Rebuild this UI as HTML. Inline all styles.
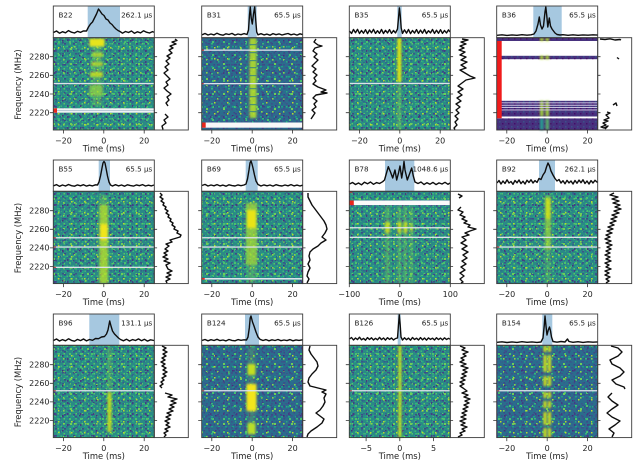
<!DOCTYPE html>
<html><head><meta charset="utf-8"><style>html,body{margin:0;padding:0;background:#fff;overflow:hidden}svg{display:block}</style></head>
<body>
<svg width="640" height="468" viewBox="0 0 640 468" xmlns="http://www.w3.org/2000/svg" xmlns:xlink="http://www.w3.org/1999/xlink" font-family="DejaVu Sans, Liberation Sans, sans-serif">
<defs>
<pattern id="pa" width="9" height="7" patternUnits="userSpaceOnUse"><rect x="1" y="1" width="2" height="1.6" fill="#3e4989"/><rect x="5.5" y="4" width="1.6" height="1.6" fill="#365d8d"/></pattern>
<pattern id="pb" width="11" height="13" patternUnits="userSpaceOnUse"><rect x="3" y="2" width="2" height="2" fill="#4ac16d"/><rect x="8" y="7" width="1.6" height="1.6" fill="#86d549"/><rect x="0" y="10" width="2" height="1.5" fill="#31688e"/></pattern>
<pattern id="pc" width="7" height="10" patternUnits="userSpaceOnUse"><rect x="4" y="0" width="1.5" height="1.5" fill="#2c728e"/><rect x="1" y="6" width="2" height="1.5" fill="#1fa187"/></pattern>
<pattern id="pd" width="13" height="11" patternUnits="userSpaceOnUse"><rect x="6" y="3" width="1.5" height="1.5" fill="#b5de2b"/><rect x="10" y="9" width="2" height="1.5" fill="#3b528b"/><rect x="2" y="6" width="1.5" height="2" fill="#443a83"/></pattern>
<pattern id="pe" width="17" height="15" patternUnits="userSpaceOnUse"><rect x="2" y="3" width="2" height="2" fill="#6ece58"/><rect x="11" y="10" width="1.5" height="1.5" fill="#472f7d"/><rect x="14" y="1" width="1.5" height="1.5" fill="#25ab82"/><rect x="7" y="13" width="2" height="1.5" fill="#35b779"/></pattern>
<pattern id="pf" width="5" height="6" patternUnits="userSpaceOnUse"><rect x="1" y="1" width="1.8" height="1.6" fill="#3b528b"/><rect x="3.5" y="4" width="1.5" height="1.5" fill="#414487"/></pattern>
<pattern id="pg" width="6" height="5" patternUnits="userSpaceOnUse"><rect x="0.5" y="0.5" width="1.5" height="1.5" fill="#3dbc74"/><rect x="3.5" y="3" width="1.5" height="1.5" fill="#58c765"/></pattern>
<pattern id="pp" width="6" height="5" patternUnits="userSpaceOnUse"><rect x="1" y="1" width="1.5" height="1.5" fill="#3b518b"/><rect x="4" y="3" width="1.5" height="1.5" fill="#440e68"/></pattern>
<filter id="bl" x="-10%" y="-10%" width="120%" height="120%"><feGaussianBlur stdDeviation="1.0"/></filter>
<filter id="gbl" filterUnits="userSpaceOnUse" x="0" y="0" width="640" height="468"><feGaussianBlur stdDeviation="0.35"/></filter>
<g id="gG">
<rect x="53.3" y="37.7" width="101" height="92.3"/>
<rect x="349.3" y="37.7" width="101" height="92.3"/>
<rect x="53.3" y="191.3" width="101" height="92.3"/>
<rect x="201.7" y="191.3" width="101" height="92.3"/>
<rect x="349.3" y="191.3" width="101" height="92.3"/>
<rect x="496.7" y="191.3" width="101" height="92.3"/>
<rect x="53.3" y="345.3" width="101" height="92.3"/>
<rect x="349.3" y="345.3" width="101" height="92.3"/>
</g>
<g id="gB">
<rect x="201.7" y="37.7" width="101" height="92.3"/>
<rect x="201.7" y="345.3" width="101" height="92.3"/>
<rect x="496.7" y="345.3" width="101" height="92.3"/>
</g>
<g id="gA"><use xlink:href="#gG"/><use xlink:href="#gB"/></g>
<g id="gP">
<rect x="496.7" y="37.7" width="101" height="3.3"/>
<rect x="496.7" y="55.8" width="101" height="3.4"/>
<rect x="496.7" y="100.8" width="101" height="15.7"/>
<rect x="496.7" y="118.3" width="101" height="11.7"/>
</g>
</defs>
<rect x="0" y="0" width="640" height="468" fill="#fff"/>
<g filter="url(#gbl)">
<!-- spectrogram backgrounds -->
<use xlink:href="#gG" fill="#2a8a86"/>
<use xlink:href="#gB" fill="#2b6d8d"/>
<use xlink:href="#gG" fill="url(#pg)"/>
<use xlink:href="#gB" fill="url(#pf)"/>
<use xlink:href="#gA" fill="url(#pa)"/>
<use xlink:href="#gA" fill="url(#pb)"/>
<use xlink:href="#gA" fill="url(#pc)"/>
<use xlink:href="#gA" fill="url(#pd)"/>
<use xlink:href="#gA" fill="url(#pe)"/>
<use xlink:href="#gP" fill="#46307e"/>
<use xlink:href="#gP" fill="url(#pp)"/>

<!-- signals -->
<g filter="url(#bl)">
<rect x="92" y="46" width="10" height="60" fill="#7ad151" opacity=".35"/>
<rect x="89.5" y="38.5" width="15" height="8" fill="#e6e41a"/>
<rect x="92" y="52.5" width="11" height="4.5" fill="#b8de29" opacity=".8"/>
<rect x="91" y="62" width="12" height="4" fill="#c8e020" opacity=".75"/>
<rect x="90" y="72" width="13" height="5" fill="#d0e11c" opacity=".8"/>
<rect x="89" y="85" width="14" height="11" fill="#a0da39" opacity=".6"/>
<rect x="249.5" y="38" width="7" height="80" fill="#b5de2b" opacity=".88"/>
<rect x="397.3" y="38" width="4" height="44" fill="#d7e219"/>
<rect x="397.3" y="84" width="4" height="46" fill="#7ad151" opacity=".5"/>
<rect x="540" y="37.7" width="3.5" height="3.3" fill="#b8de29"/><rect x="545.5" y="37.7" width="3.5" height="3.3" fill="#b8de29"/>
<rect x="540" y="55.8" width="3.5" height="3.4" fill="#b8de29"/><rect x="545.5" y="55.8" width="3.5" height="3.4" fill="#b8de29"/>
<rect x="540" y="100.8" width="3.5" height="15.7" fill="#a8db34" opacity=".9"/><rect x="545.5" y="100.8" width="3.5" height="15.7" fill="#a8db34" opacity=".9"/>
<rect x="540" y="118.3" width="3.5" height="11.7" fill="#2a9d8f"/><rect x="545.5" y="118.3" width="3.5" height="11.7" fill="#5ec962" opacity=".8"/>
<rect x="100" y="195" width="7" height="12" fill="#7ad151" opacity=".4"/>
<rect x="99.5" y="205" width="8.5" height="78.5" fill="#b5de2b" opacity=".8"/>
<rect x="100" y="224" width="8" height="16" fill="#f0e51c"/>
<rect x="246" y="203" width="11" height="62" fill="#a8db34" opacity=".75"/>
<rect x="247" y="210" width="9" height="18" fill="#e8e419"/>
<rect x="247" y="265" width="9" height="18" fill="#7ad151" opacity=".35"/>
<rect x="385.5" y="206" width="4" height="77" fill="#7ad151" opacity=".45"/>
<rect x="397.5" y="206" width="3.5" height="77" fill="#7ad151" opacity=".45"/>
<rect x="403.5" y="206" width="3.5" height="77" fill="#7ad151" opacity=".45"/>
<rect x="410" y="206" width="3" height="77" fill="#7ad151" opacity=".4"/>
<rect x="385" y="222" width="5" height="11" fill="#d0e11c" opacity=".85"/>
<rect x="397.5" y="222" width="4" height="11" fill="#d0e11c" opacity=".85"/>
<rect x="403.5" y="222" width="4" height="11" fill="#d0e11c" opacity=".85"/>
<rect x="410" y="224" width="3" height="8" fill="#d0e11c" opacity=".6"/>
<rect x="545" y="196" width="6" height="54" fill="#a0da39" opacity=".7"/>
<rect x="545.5" y="199" width="5" height="20" fill="#d5e21a" opacity=".8"/>
<rect x="545" y="250" width="6" height="33" fill="#7ad151" opacity=".3"/>
<rect x="107.5" y="347" width="4" height="42" fill="#7ad151" opacity=".4"/>
<rect x="107.5" y="392" width="4" height="40" fill="#c8e020" opacity=".9"/>
<rect x="248" y="346" width="7" height="90" fill="#7ad151" opacity=".25"/>
<rect x="247.5" y="364" width="8" height="11" fill="#c2df23"/>
<rect x="246.5" y="384" width="10" height="27" fill="#f2e51d"/>
<rect x="247.5" y="423" width="8" height="11" fill="#b8de29"/>
<rect x="398.3" y="345.5" width="3.2" height="92" fill="#c8e020" opacity=".9"/>
<g fill="#d2e21b">
<rect x="543.5" y="345.5" width="3" height="6.5"/><rect x="548" y="345.5" width="3" height="6.5"/>
<rect x="543.5" y="355" width="3" height="17"/><rect x="548" y="355" width="3" height="17"/>
<rect x="543.5" y="376" width="3" height="10"/><rect x="548" y="376" width="3" height="10"/>
<rect x="543.5" y="392" width="3" height="6"/><rect x="548" y="392" width="3" height="6"/>
<rect x="543.5" y="401" width="3" height="7"/><rect x="548" y="401" width="3" height="7"/>
<rect x="543.5" y="412" width="3" height="13"/><rect x="548" y="412" width="3" height="13"/>
<rect x="543.5" y="428" width="3" height="9.5"/><rect x="548" y="428" width="3" height="9.5"/>
</g>
</g>
<g fill="#2a788e" opacity=".7">
<rect x="249.5" y="44" width="7" height="1.2"/><rect x="249.5" y="52" width="7" height="1.2"/><rect x="249.5" y="60" width="7" height="1.2"/><rect x="249.5" y="67" width="7" height="1.2"/><rect x="249.5" y="75" width="7" height="1.2"/><rect x="249.5" y="88" width="7" height="1.2"/><rect x="249.5" y="96" width="7" height="1.2"/><rect x="249.5" y="104" width="7" height="1.2"/><rect x="249.5" y="111" width="7" height="1.2"/>
</g>

<!-- masked channels -->
<g fill="#dde3ea">
<rect x="53.3" y="82.9" width="101" height="1.3"/>
<rect x="53.3" y="108.3" width="101" height="4.4" fill="#eef1f3"/>
<rect x="53.3" y="110.2" width="101" height="0.8" fill="#aebfd0"/>
<rect x="201.7" y="49.5" width="101" height="1.3"/>
<rect x="201.7" y="83" width="101" height="1.3"/>
<rect x="201.7" y="122.5" width="101" height="5.2" fill="#f8f8f8"/>
<rect x="349.3" y="82.8" width="101" height="1.3"/>
<rect x="53.3" y="237.1" width="101" height="1.3"/>
<rect x="53.3" y="246.4" width="101" height="1.3"/>
<rect x="53.3" y="266.7" width="101" height="1.3"/>
<rect x="201.7" y="237.1" width="101" height="1.3"/>
<rect x="201.7" y="246.4" width="101" height="1.3"/>
<rect x="201.7" y="278" width="101" height="1.6"/>
<rect x="349.3" y="200.5" width="101" height="4.6" fill="#fafafa"/>
<rect x="349.3" y="227.1" width="101" height="1.3"/>
<rect x="349.3" y="236.7" width="101" height="1.3"/>
<rect x="496.7" y="236.7" width="101" height="1.3"/>
<rect x="496.7" y="246.4" width="101" height="1.3"/>
<rect x="53.3" y="390.1" width="101" height="1.3"/>
<rect x="201.7" y="390.1" width="101" height="1.3"/>
<rect x="349.3" y="390.1" width="101" height="1.3"/>
<rect x="496.7" y="390.1" width="101" height="1.3"/>
<rect x="496.7" y="102.4" width="101" height="0.9" fill="#d8d0e8"/>
<rect x="496.7" y="104.8" width="101" height="0.9" fill="#d8d0e8"/>
<rect x="496.7" y="107.1" width="101" height="0.9" fill="#d8d0e8"/>
<rect x="496.7" y="109.5" width="101" height="0.9" fill="#d8d0e8"/>
<rect x="496.7" y="116.5" width="101" height="1.8" fill="#ffffff"/>
</g>

<!-- red markers -->
<g fill="#e8271c">
<rect x="53.3" y="108.3" width="3.7" height="4.4"/>
<rect x="201.7" y="122.5" width="4" height="5.2"/>
<rect x="201.7" y="49.5" width="2.2" height="1.3" fill="#c03030"/>
<rect x="201.7" y="83" width="2" height="1.3" fill="#c03030"/>
<rect x="53.3" y="237.1" width="2.5" height="1.3" fill="#b04040"/>
<rect x="53.3" y="246.4" width="2.5" height="1.3" fill="#b04040"/>
<rect x="53.3" y="266.7" width="2.5" height="1.3" fill="#b04040"/>
<rect x="201.7" y="278" width="3" height="1.6"/>
<rect x="349.3" y="200.5" width="4.5" height="4.6"/>
<rect x="349.3" y="191.5" width="3" height="1.2" fill="#c03030"/>
<rect x="496.7" y="246.4" width="2.5" height="1.3" fill="#b04040"/>
<rect x="53.3" y="390.1" width="2.5" height="1.3" fill="#a05050"/>
<rect x="201.7" y="390.1" width="2.5" height="1.3" fill="#a05050"/>
<rect x="349.3" y="390.1" width="2.5" height="1.3" fill="#a05050"/>
<rect x="496.7" y="390.1" width="2.5" height="1.3" fill="#a05050"/>
<rect x="496.9" y="41" width="4.8" height="77.3" fill="#f01a1a"/>
</g>

<!-- top box spans -->
<g fill="#a6c8e0">
<rect x="87.7" y="6" width="32.3" height="31.7"/>
<rect x="247.7" y="6" width="9" height="31.7"/>
<rect x="397.3" y="6" width="4.4" height="31.7"/>
<rect x="533.3" y="6" width="28.4" height="31.7"/>
<rect x="98.7" y="160" width="11.3" height="31.3"/>
<rect x="245.7" y="160" width="12" height="31.3"/>
<rect x="385" y="160" width="29.3" height="31.3"/>
<rect x="539" y="160" width="16" height="31.3"/>
<rect x="89.3" y="314" width="30" height="31.3"/>
<rect x="245" y="314" width="14" height="31.3"/>
<rect x="397.7" y="314" width="3" height="31.3"/>
<rect x="542.3" y="314" width="10" height="31.3"/>
</g>

<!-- top profiles -->
<g fill="none" stroke="#111" stroke-width="1.4" stroke-linejoin="round">
<polyline points="53.5,32.5 56.5,31 59.5,33.2 62.5,31.7 65.5,32.8 68.5,30.6 71.5,32.2 74.5,33 77.5,31.3 80.5,32.4 83.5,30.9 86.5,31 88.5,27 90.5,24 92.5,22 94.5,18 96.5,14 98.5,9 100,11 102,14 104,15.5 106,19 108,20 110,23 112,24.5 114,27 116,29 118,30.5 120,31.5 122.5,33.2 125.5,31.5 128.5,32.5 131.5,31 134.5,33.3 137.5,31.8 140.5,32.9 143.5,30.8 146.5,32.2 149.5,33 152.5,31.6 154,32.3"/>
<polyline points="202,34.8 205,33.5 208,35 211,34 214,34.9 217,33.2 220,34.6 223,35.2 226,33.8 229,34.5 232,33.4 235,35.1 238,34 241,34.7 244,33.6 247,34.5 248.5,30 249.5,15 250.3,7 251.2,18 252.3,24 253.5,14 254.7,7 255.7,20 256.7,32 258,34.8 261,33.7 264,34.9 267,34.1 270,35.2 273,33.6 276,34.7 279,33.9 282,35 285,34.2 288,33.5 291,34.8 294,34 297,35.1 300,33.8 302.5,34.6"/>
<polyline points="349.5,31 351.5,33.5 353.5,29.5 355.5,32.8 357.5,29.3 359.5,33.5 361.5,30.5 363.5,33.2 365.5,29.7 367.5,33.6 369.5,30 371.5,32.8 373.5,29.4 375.5,33.4 377.5,30.7 379.5,33.3 381.5,29.5 383.5,33.5 385.5,30.3 387.5,33 389.5,29.6 391.5,33.4 393.5,30.5 395.5,32.9 397.5,29 398.5,18 399.4,8 400.3,16 401.2,28 402.5,33.4 404.5,29.8 406.5,33.2 408.5,29.5 410.5,33.6 412.5,30.5 414.5,33.1 416.5,29.6 418.5,33.4 420.5,30.1 422.5,33.2 424.5,29.5 426.5,33.5 428.5,30.7 430.5,32.9 432.5,29.5 434.5,33.4 436.5,30.2 438.5,33.3 440.5,29.7 442.5,33.4 444.5,30.5 446.5,33 448.5,29.9 450,32"/>
<polyline points="497,35.3 502,34.8 507,35.4 512,34.9 517,35.3 522,34.7 527,35.2 531,34.8 534,34 536,31 538,24 539.3,17 540.5,25 542,29 543.5,26 545,12 545.8,7 546.8,16 547.8,27 549.3,18 550.5,26 552,29 553.5,31 555,33 557,34.5 560,35 563,34.7 568,35.3 573,34.8 578,35.3 583,34.9 588,35.2 593,34.8 597.5,35.1"/>
<polyline points="53.5,185.8 56.5,184.6 59.5,186.3 62.5,185 65.5,186 68.5,184.5 71.5,185.7 74.5,186.2 77.5,184.9 80.5,185.8 83.5,184.7 86.5,186.1 89.5,185.2 92.5,185.9 95.5,184.8 97.5,185 99,182 100.5,176 102,168 103,163 104,161.5 105,163 106,168 107.5,176 109,182 110.5,185 112.5,186 115.5,184.7 118.5,185.9 121.5,185 124.5,186.2 127.5,184.8 130.5,185.6 133.5,186.1 136.5,184.9 139.5,185.7 142.5,184.6 145.5,186 148.5,185.2 151.5,185.9 154,185"/>
<polyline points="202,185.5 205,184.4 208,186 211,185 214,185.8 217,184.6 220,185.9 223,185.1 226,186.2 229,184.8 232,185.6 235,186 238,184.9 241,185.7 244,185 246,184 247.5,179 249,170 250,163 251,161 252,164 253,168 254.5,175 256,181 258,184.5 261,186 264,184.9 267,185.8 270,185 273,186.1 276,184.7 279,185.6 282,186 285,185 288,185.8 291,184.6 294,185.9 297,185.1 300,186 302.5,185.2"/>
<polyline points="349.5,184 352.5,182.5 355.5,184.5 358.5,183 361.5,184.8 364.5,182.2 367.5,183.8 370.5,182 373.5,184.3 376.5,182.6 379.5,183.5 382.5,181.8 384.5,180 386.5,173 388.3,166.7 390.5,172 392.7,178 395,170 396.7,180 398.5,173 400,166 401.7,178 403,170 404,161.5 405,170 407.3,180 409.5,174 411.7,168 413.3,176 415,182 418,183.5 421,182 424,184.5 427,182.7 430,184.2 433,182.4 436,184.6 439,182.9 442,184 445,182.3 448,184.3 450,183"/>
<polyline points="497,183 499,180.5 501,184 503,181 505,183.5 507,179.8 509,183 511,181.5 513,184.3 515,180.5 517,182.8 519,180 521,183.6 523,181.2 525,184 527,180.2 529,182.5 531,179.8 533,183 535,180.6 537,182.4 539,178.5 541,179.5 543,175 545,172 546.5,167 548,163 549.5,166 551,171 553,175 555,178.5 557,181 559,179.5 561,183 563,180.7 565,183.8 567,180.3 569,182.9 571,181 573,184 575,180.5 577,183.2 579,180.1 581,182.7 583,179.8 585,183.5 587,181 589,184 591,180.6 593,183 595,180.3 597.5,182.5"/>
<polyline points="53.5,340.5 56.5,339 59.5,341 62.5,339.6 65.5,340.8 68.5,338.8 71.5,340.4 74.5,341.2 77.5,339.4 80.5,340.6 83.5,339 86.5,340.9 89.5,339.5 92.5,340.3 95.5,338.5 98.5,338.7 101.5,337 104.5,336.5 106.5,334 108,330 109.7,321 111,326 112.5,331 114.5,334 116.5,336 118.5,338 120.5,339.5 123.5,340.8 126.5,339.2 129.5,341 132.5,339.6 135.5,340.5 138.5,338.9 141.5,340.7 144.5,339.3 147.5,341.1 150.5,339.8 154,340.5"/>
<polyline points="202,340.4 205,339.5 208,340.8 211,339.7 214,340.5 217,339.3 220,340.6 223,340 226,340.9 229,339.5 232,340.4 235,340.8 238,339.6 241,340.3 244,339.8 246.5,340 248,337 249.3,328 250.2,318 251,316 252.5,322 254,326 256,332 258,337 260,339.3 263,340.5 266,339.6 269,340.8 272,339.8 275,340.5 278,339.5 281,340.7 284,340 287,340.6 290,339.6 293,340.8 296,339.9 299,340.4 302.5,339.8"/>
<polyline points="349.5,339 351.5,337.5 353.5,340 355.5,338 357.5,339.6 359.5,337.2 361.5,339.8 363.5,338.4 365.5,340.2 367.5,337.6 369.5,339.5 371.5,337.8 373.5,340 375.5,338.3 377.5,339.8 379.5,337.4 381.5,339.6 383.5,338 385.5,340.1 387.5,337.7 389.5,339.4 391.5,338 393.5,340 395.5,338.5 397.5,338 398.4,326 399.3,315 400.2,325 401,337 402.5,340 404.5,337.8 406.5,339.7 408.5,338.1 410.5,340.2 412.5,337.5 414.5,339.5 416.5,338.2 418.5,340 420.5,337.6 422.5,339.8 424.5,338 426.5,340.1 428.5,337.9 430.5,339.4 432.5,338.2 434.5,340 436.5,337.7 438.5,339.6 440.5,338.1 442.5,339.9 444.5,337.8 446.5,339.5 448.5,338.3 450,339.2"/>
<polyline points="497,342.3 502,341.8 507,342.5 512,341.9 517,342.4 522,341.7 527,342.3 532,341.9 537,342.4 541,342 543,338 544.3,325 545,316 546,326 547,335 548.3,330 549.5,327 550.5,331 551.5,337 553,341.5 557,342.2 561,341.5 565,342 567.5,339 569,341.5 573,342.3 578,341.7 583,342.4 588,341.8 593,342.2 597.5,341.9"/>
</g>

<!-- side profiles -->
<g fill="none" stroke="#111" stroke-width="1.4" stroke-linejoin="round">
<polyline points="175,39 177,40.5 172,42 176,44 170,46 173,48 169,50 172,53 167,56 170,58 166,61 169,64 165,67 168,70 164,73 167,76 170,79 166,82 168,85 164,88 167,91 171,94 167,97 169,100 166,103 168,106"/>
<polyline points="165,114 168,117 164,120 166,123 162,126 163,129.5"/>
<polyline points="316,39 314,42 318,45 322,46 315,48 313,51 317,54 314,57 318,60 315,63 312,66 316,69 313,72 317,75 314,78 316,81 313,84 318,87 326,90 321,92 327,93 316,95 313,98 317,101 314,104 316,107 312,110 315,113 313,116 311,119"/>
<polyline points="462,39 468,40 461,42 466,44 460,46 464,48 459,50 465,52 460,55 466,57 461,60 467,62 461,65 466,68 460,70 465,73 470,76 475,78 466,80 462,83 458,86 463,89 458,92 462,95 457,98 461,101 456,104 460,107 456,110 459,113 455,116 458,119 455,122 457,125 454,128 455,129.5"/>
<polyline points="600,39 605,39.5 610,38.8 615,40 620,39.5 621,40"/>
<polyline points="617,57.5 619,59"/>
<polyline points="613,105 616,103 617,106"/>
<polyline points="607,112 610,113 606,115 609,118 604,120 608,121 603,123 606,125 601,127 604,128 608,126 605,129"/>
<polyline points="160,193 162,195 160,197 163,199 161,201 164,203 163,205 166,207 165,209 168,211 166,213 169,215 168,217 171,219 170,221 173,223 172,225 175,227 174,229 178,231 177,233 181,235 180,237 170,240 172,242 166,244 169,246 165,249 168,251 164,253 167,255 163,257 168,259 164,261 170,263 166,265 168,269 172,271 167,273 171,275 166,277 170,279 166,281 167,283"/>
<polyline points="308,193 308,197 310,201 312,205 315,209 318,213 321,217 324,221 326,225 327,229 325,233 322,237 326,240 321,243 318,246 313,249 310,252 309,256 310,260 308,264 310,268 308,272 307,276 309,279 307,283"/>
<polyline points="458,194 462,196 459,198"/>
<polyline points="461,207 458,210 463,212 460,215 465,217 462,219 467,221 464,223 470,225 468,227 476,229 470,231 465,233 469,235 462,237 466,240 461,243 467,246 462,249 468,252 463,255 467,258 462,261 466,264 461,267 465,270 460,273 464,276 460,279 463,282 461,283"/>
<polyline points="614,193 610,195 618,197 612,199 619,201 613,203 620,205 615,207 621,209 614,211 619,213 612,215 617,217 611,219 616,221 610,223 614,225 608,227 613,229 607,231 612,233 606,235 610,237 605,239 611,241 606,243 612,245 607,247 611,249 606,251 610,253 605,255 610,257 606,259 611,261 605,263 609,265 606,267 611,269 605,271 609,273 605,275 610,277 606,279 609,281 606,283"/>
<polyline points="162,346 166,348 163,350 167,352 163,354 166,356 162,358 165,360 161,362 165,364 162,366 166,368 163,370 167,372 163,374 166,376 162,378 164,380 161,382 163,384 160,386 162,388"/>
<polyline points="165,393 172,395 168,397 177,399 171,401 176,403 170,405 174,407 169,409 173,411 167,413 171,415 166,417 170,419 165,421 169,423 166,425 170,427 165,429 168,431 164,433 166,435 164,437"/>
<polyline points="310,346 309,350 311,354 314,358 317,362 318,366 316,370 312,374 309,378 308,382 310,386 318,388 326,390 322,392 326,394 324,398 325,402 323,406 320,410 316,413 320,416 324,419 322,423 317,427 311,431 308,434 307,437"/>
<polyline points="460,346 465,348 462,350 468,352 463,354 466,356 461,358 464,360 460,362 466,364 461,366 468,368 463,370 467,372 462,374 466,376 461,378 465,380 460,382 464,384 460,386 463,388 467,391 462,393 468,395 464,397 470,399 465,401 469,403 464,405 468,407 463,409 467,411 462,413 466,415 461,417 466,419 460,421 465,423 461,425 467,427 462,429 465,431 460,433 462,435 458,437"/>
<polyline points="611,346 618,348 622,352 618,356 610,360 612,364 620,368 624,372 620,376 612,380 616,384 624,387 625,389"/>
<polyline points="612,393 608,397 612,401 618,405 612,409 607,413 612,417 620,421 615,425 609,429 614,433 612,437"/>
</g>

<!-- frames -->
<g fill="none" stroke="#3a3a3a" stroke-width="0.9">
<rect x="53.3" y="6" width="101" height="31.7"/><rect x="201.7" y="6" width="101" height="31.7"/><rect x="349.3" y="6" width="101" height="31.7"/><rect x="496.7" y="6" width="101" height="31.7"/>
<rect x="53.3" y="160" width="101" height="31.3"/><rect x="201.7" y="160" width="101" height="31.3"/><rect x="349.3" y="160" width="101" height="31.3"/><rect x="496.7" y="160" width="101" height="31.3"/>
<rect x="53.3" y="314" width="101" height="31.3"/><rect x="201.7" y="314" width="101" height="31.3"/><rect x="349.3" y="314" width="101" height="31.3"/><rect x="496.7" y="314" width="101" height="31.3"/>
<rect x="53.3" y="37.7" width="101" height="92.3"/><rect x="201.7" y="37.7" width="101" height="92.3"/><rect x="349.3" y="37.7" width="101" height="92.3"/><rect x="496.7" y="37.7" width="101" height="92.3"/>
<rect x="53.3" y="191.3" width="101" height="92.3"/><rect x="201.7" y="191.3" width="101" height="92.3"/><rect x="349.3" y="191.3" width="101" height="92.3"/><rect x="496.7" y="191.3" width="101" height="92.3"/>
<rect x="53.3" y="345.3" width="101" height="92.3"/><rect x="201.7" y="345.3" width="101" height="92.3"/><rect x="349.3" y="345.3" width="101" height="92.3"/><rect x="496.7" y="345.3" width="101" height="92.3"/>
<rect x="154.3" y="37.7" width="34" height="92.3"/><rect x="302.7" y="37.7" width="34" height="92.3"/><rect x="450.3" y="37.7" width="34" height="92.3"/><rect x="597.7" y="37.7" width="34" height="92.3"/>
<rect x="154.3" y="191.3" width="34" height="92.3"/><rect x="302.7" y="191.3" width="34" height="92.3"/><rect x="450.3" y="191.3" width="34" height="92.3"/><rect x="597.7" y="191.3" width="34" height="92.3"/>
<rect x="154.3" y="345.3" width="34" height="92.3"/><rect x="302.7" y="345.3" width="34" height="92.3"/><rect x="450.3" y="345.3" width="34" height="92.3"/><rect x="597.7" y="345.3" width="34" height="92.3"/>
</g>

<!-- ticks -->
<g stroke="#333" stroke-width="0.8">
<path d="M49.8 56.7h3.5M49.8 75.3h3.5M49.8 94h3.5M49.8 112.7h3.5 M198.2 56.7h3.5M198.2 75.3h3.5M198.2 94h3.5M198.2 112.7h3.5 M345.8 56.7h3.5M345.8 75.3h3.5M345.8 94h3.5M345.8 112.7h3.5 M493.2 56.7h3.5M493.2 75.3h3.5M493.2 94h3.5M493.2 112.7h3.5"/>
<path d="M49.8 210.7h3.5M49.8 229.3h3.5M49.8 247.9h3.5M49.8 266.6h3.5 M198.2 210.7h3.5M198.2 229.3h3.5M198.2 247.9h3.5M198.2 266.6h3.5 M345.8 210.7h3.5M345.8 229.3h3.5M345.8 247.9h3.5M345.8 266.6h3.5 M493.2 210.7h3.5M493.2 229.3h3.5M493.2 247.9h3.5M493.2 266.6h3.5"/>
<path d="M49.8 364.7h3.5M49.8 383.3h3.5M49.8 401.9h3.5M49.8 420.6h3.5 M198.2 364.7h3.5M198.2 383.3h3.5M198.2 401.9h3.5M198.2 420.6h3.5 M345.8 364.7h3.5M345.8 383.3h3.5M345.8 401.9h3.5M345.8 420.6h3.5 M493.2 364.7h3.5M493.2 383.3h3.5M493.2 401.9h3.5M493.2 420.6h3.5"/>
<path d="M154.3 56.7h2.8M154.3 75.3h2.8M154.3 94h2.8M154.3 112.7h2.8 M302.7 56.7h2.8M302.7 75.3h2.8M302.7 94h2.8M302.7 112.7h2.8 M450.3 56.7h2.8M450.3 75.3h2.8M450.3 94h2.8M450.3 112.7h2.8 M597.7 56.7h2.8M597.7 75.3h2.8M597.7 94h2.8M597.7 112.7h2.8"/>
<path d="M154.3 210.7h2.8M154.3 229.3h2.8M154.3 247.9h2.8M154.3 266.6h2.8 M302.7 210.7h2.8M302.7 229.3h2.8M302.7 247.9h2.8M302.7 266.6h2.8 M450.3 210.7h2.8M450.3 229.3h2.8M450.3 247.9h2.8M450.3 266.6h2.8 M597.7 210.7h2.8M597.7 229.3h2.8M597.7 247.9h2.8M597.7 266.6h2.8"/>
<path d="M154.3 364.7h2.8M154.3 383.3h2.8M154.3 401.9h2.8M154.3 420.6h2.8 M302.7 364.7h2.8M302.7 383.3h2.8M302.7 401.9h2.8M302.7 420.6h2.8 M450.3 364.7h2.8M450.3 383.3h2.8M450.3 401.9h2.8M450.3 420.6h2.8 M597.7 364.7h2.8M597.7 383.3h2.8M597.7 401.9h2.8M597.7 420.6h2.8"/>
<path d="M63.4 130v3.5M103.8 130v3.5M144.2 130v3.5 M211.8 130v3.5M252.2 130v3.5M292.6 130v3.5 M359.4 130v3.5M399.8 130v3.5M440.2 130v3.5 M506.8 130v3.5M547.2 130v3.5M587.6 130v3.5"/>
<path d="M63.4 283.6v3.5M103.8 283.6v3.5M144.2 283.6v3.5 M211.8 283.6v3.5M252.2 283.6v3.5M292.6 283.6v3.5 M349.3 283.6v3.5M399.8 283.6v3.5M450.3 283.6v3.5 M506.8 283.6v3.5M547.2 283.6v3.5M587.6 283.6v3.5"/>
<path d="M63.4 437.6v3.5M103.8 437.6v3.5M144.2 437.6v3.5 M211.8 437.6v3.5M252.2 437.6v3.5M292.6 437.6v3.5 M366.1 437.6v3.5M399.8 437.6v3.5M433.5 437.6v3.5 M506.8 437.6v3.5M547.2 437.6v3.5M587.6 437.6v3.5"/>
</g>

<!-- text -->
<g fill="#222" font-size="8.4">
<text transform="translate(21,84.5) rotate(-90)" text-anchor="middle">Frequency (MHz)</text>
<text transform="translate(21,238) rotate(-90)" text-anchor="middle">Frequency (MHz)</text>
<text transform="translate(21,392) rotate(-90)" text-anchor="middle">Frequency (MHz)</text>
<g text-anchor="middle">
<text x="103.8" y="151.5">Time (ms)</text><text x="252.2" y="151.5">Time (ms)</text><text x="399.8" y="151.5">Time (ms)</text><text x="547.2" y="151.5">Time (ms)</text>
<text x="103.8" y="305">Time (ms)</text><text x="252.2" y="305">Time (ms)</text><text x="399.8" y="305">Time (ms)</text><text x="547.2" y="305">Time (ms)</text>
<text x="103.8" y="459">Time (ms)</text><text x="252.2" y="459">Time (ms)</text><text x="399.8" y="459">Time (ms)</text><text x="547.2" y="459">Time (ms)</text>
</g>
</g>
<g fill="#222" font-size="8" text-anchor="end">
<text x="49.5" y="59.5">2280</text><text x="49.5" y="78.1">2260</text><text x="49.5" y="96.8">2240</text><text x="49.5" y="115.5">2220</text>
<text x="49.5" y="213.5">2280</text><text x="49.5" y="232.1">2260</text><text x="49.5" y="250.7">2240</text><text x="49.5" y="269.4">2220</text>
<text x="49.5" y="367.5">2280</text><text x="49.5" y="386.1">2260</text><text x="49.5" y="404.7">2240</text><text x="49.5" y="423.4">2220</text>
</g>
<g fill="#222" font-size="8" text-anchor="middle">
<text x="63.4" y="143.5">−20</text><text x="103.8" y="143.5">0</text><text x="144.2" y="143.5">20</text>
<text x="211.8" y="143.5">−20</text><text x="252.2" y="143.5">0</text><text x="292.6" y="143.5">20</text>
<text x="359.4" y="143.5">−20</text><text x="399.8" y="143.5">0</text><text x="440.2" y="143.5">20</text>
<text x="506.8" y="143.5">−20</text><text x="547.2" y="143.5">0</text><text x="587.6" y="143.5">20</text>
<text x="63.4" y="297">−20</text><text x="103.8" y="297">0</text><text x="144.2" y="297">20</text>
<text x="211.8" y="297">−20</text><text x="252.2" y="297">0</text><text x="292.6" y="297">20</text>
<text x="349.3" y="297">−100</text><text x="399.8" y="297">0</text><text x="450.3" y="297">100</text>
<text x="506.8" y="297">−20</text><text x="547.2" y="297">0</text><text x="587.6" y="297">20</text>
<text x="63.4" y="451">−20</text><text x="103.8" y="451">0</text><text x="144.2" y="451">20</text>
<text x="211.8" y="451">−20</text><text x="252.2" y="451">0</text><text x="292.6" y="451">20</text>
<text x="366.1" y="451">−5</text><text x="399.8" y="451">0</text><text x="433.5" y="451">5</text>
<text x="506.8" y="451">−20</text><text x="547.2" y="451">0</text><text x="587.6" y="451">20</text>
</g>
<g fill="#222" font-size="7.2">
<text x="58.5" y="17.5">B22</text><text x="206.9" y="17.5">B31</text><text x="354.5" y="17.5">B35</text><text x="501.9" y="17.5">B36</text>
<text x="58.5" y="171.5">B55</text><text x="206.9" y="171.5">B69</text><text x="354.5" y="171.5">B78</text><text x="501.9" y="171.5">B92</text>
<text x="58.5" y="325.5">B96</text><text x="206.9" y="325.5">B124</text><text x="354.5" y="325.5">B126</text><text x="501.9" y="325.5">B154</text>
<g text-anchor="end">
<text x="152.3" y="17.5">262.1 µs</text><text x="300.7" y="17.5">65.5 µs</text><text x="448.3" y="17.5">65.5 µs</text><text x="595.7" y="17.5">65.5 µs</text>
<text x="152.3" y="171.5">65.5 µs</text><text x="300.7" y="171.5">65.5 µs</text><text x="448.3" y="171.5">1048.6 µs</text><text x="595.7" y="171.5">262.1 µs</text>
<text x="152.3" y="325.5">131.1 µs</text><text x="300.7" y="325.5">65.5 µs</text><text x="448.3" y="325.5">65.5 µs</text><text x="595.7" y="325.5">65.5 µs</text>
</g>
</g>
</g>
</svg>
</body></html>
